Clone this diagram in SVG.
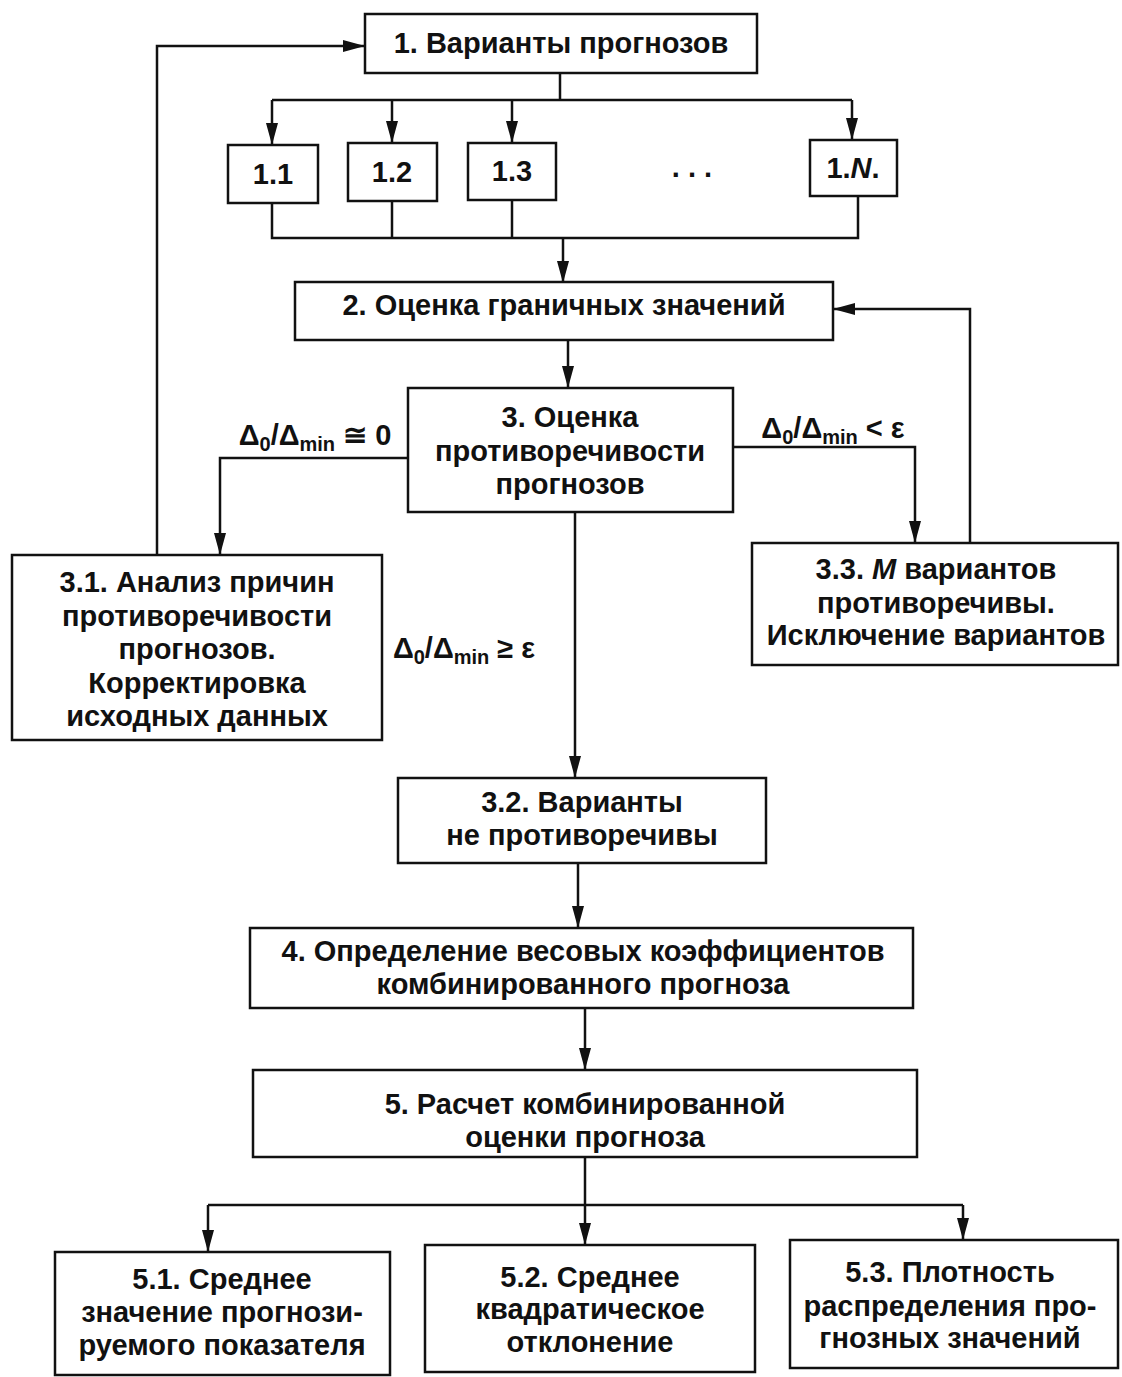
<svg xmlns="http://www.w3.org/2000/svg" width="1122" height="1377" viewBox="0 0 1122 1377">
<style>
.b{fill:#fff;stroke:#111;stroke-width:2.5}
.t{font-family:"Liberation Sans",Arial,sans-serif;font-weight:bold;font-size:29px;fill:#111;text-anchor:middle}
.c{fill:none;stroke:#111;stroke-width:2.5}
.s{font-size:20px}
</style>
<defs>
<marker id="a" viewBox="0 0 22 12" refX="22" refY="6" markerWidth="22" markerHeight="12" markerUnits="userSpaceOnUse" orient="auto">
<path d="M0,0 L22,6 L0,12 Z" fill="#111"/>
</marker>
</defs>
<rect width="1122" height="1377" fill="#fff"/>
<g id="connectors">
<path class="c" d="M157,555 V46 H365" marker-end="url(#a)"/>
<path class="c" d="M560,73 V100"/>
<path class="c" d="M272,100 H852"/>
<path class="c" d="M272,100 V145" marker-end="url(#a)"/>
<path class="c" d="M392,100 V143" marker-end="url(#a)"/>
<path class="c" d="M512,100 V143" marker-end="url(#a)"/>
<path class="c" d="M852,100 V140" marker-end="url(#a)"/>
<path class="c" d="M272,203 V238 H858 V196"/>
<path class="c" d="M392,201 V238"/>
<path class="c" d="M512,200 V238"/>
<path class="c" d="M563,238 V283" marker-end="url(#a)"/>
<path class="c" d="M568,340 V388" marker-end="url(#a)"/>
<path class="c" d="M408,458 H220 V555" marker-end="url(#a)"/>
<path class="c" d="M733,447 H915 V543" marker-end="url(#a)"/>
<path class="c" d="M970,543 V309 H833" marker-end="url(#a)"/>
<path class="c" d="M575,512 V778" marker-end="url(#a)"/>
<path class="c" d="M578,863 V928" marker-end="url(#a)"/>
<path class="c" d="M585,1008 V1070" marker-end="url(#a)"/>
<path class="c" d="M585,1157 V1205"/>
<path class="c" d="M208,1205 H963"/>
<path class="c" d="M208,1205 V1252" marker-end="url(#a)"/>
<path class="c" d="M585,1205 V1245" marker-end="url(#a)"/>
<path class="c" d="M963,1205 V1240" marker-end="url(#a)"/>
<text class="t" x="315" y="445">Δ<tspan class="s" dy="6">0</tspan><tspan dy="-6">/Δ</tspan><tspan class="s" dy="6">min</tspan><tspan dy="-6"> ≅ 0</tspan></text>
<text class="t" x="833" y="438">Δ<tspan class="s" dy="6">0</tspan><tspan dy="-6">/Δ</tspan><tspan class="s" dy="6">min</tspan><tspan dy="-6"> &lt; ε</tspan></text>
<text class="t" x="464" y="658">Δ<tspan class="s" dy="6">0</tspan><tspan dy="-6">/Δ</tspan><tspan class="s" dy="6">min</tspan><tspan dy="-6"> ≥ ε</tspan></text>
<text class="t" x="692" y="177">. . .</text>
</g>
<g id="n1"><rect class="b" x="365" y="14" width="392" height="59"/><text class="t" x="561" y="53">1. Варианты прогнозов</text></g>
<g id="n1_1"><rect class="b" x="228" y="145" width="90" height="58"/><text class="t" x="273" y="184">1.1</text></g>
<g id="n1_2"><rect class="b" x="348" y="143" width="89" height="58"/><text class="t" x="392" y="182">1.2</text></g>
<g id="n1_3"><rect class="b" x="468" y="143" width="88" height="57"/><text class="t" x="512" y="181">1.3</text></g>
<g id="n1_N"><rect class="b" x="810" y="140" width="87" height="56"/><text class="t" x="853" y="178">1.<tspan font-style="italic">N</tspan>.</text></g>
<g id="n2"><rect class="b" x="295" y="282" width="538" height="58"/><text class="t" x="564" y="315">2. Оценка граничных значений</text></g>
<g id="n3"><rect class="b" x="408" y="388" width="325" height="124"/>
<text class="t" x="570" y="427">3. Оценка</text><text class="t" x="570" y="461">противоречивости</text><text class="t" x="570" y="494">прогнозов</text></g>
<g id="n3_1"><rect class="b" x="12" y="555" width="370" height="185"/>
<text class="t" x="197" y="592">3.1. Анализ причин</text><text class="t" x="197" y="626">противоречивости</text><text class="t" x="197" y="659">прогнозов.</text><text class="t" x="197" y="693">Корректировка</text><text class="t" x="197" y="726">исходных данных</text></g>
<g id="n3_3"><rect class="b" x="752" y="543" width="366" height="122"/>
<text class="t" x="936" y="579">3.3. <tspan font-style="italic">M</tspan> вариантов</text><text class="t" x="936" y="613">противоречивы.</text><text class="t" x="936" y="645">Исключение вариантов</text></g>
<g id="n3_2"><rect class="b" x="398" y="778" width="368" height="85"/>
<text class="t" x="582" y="812">3.2. Варианты</text><text class="t" x="582" y="845">не противоречивы</text></g>
<g id="n4"><rect class="b" x="250" y="928" width="663" height="80"/>
<text class="t" x="583" y="961">4. Определение весовых коэффициентов</text><text class="t" x="583" y="994">комбинированного прогноза</text></g>
<g id="n5"><rect class="b" x="253" y="1070" width="664" height="87"/>
<text class="t" x="585" y="1114">5. Расчет комбинированной</text><text class="t" x="585" y="1147">оценки прогноза</text></g>
<g id="n5_1"><rect class="b" x="55" y="1252" width="335" height="123"/>
<text class="t" x="222" y="1289">5.1. Среднее</text><text class="t" x="222" y="1322">значение прогнози-</text><text class="t" x="222" y="1355">руемого показателя</text></g>
<g id="n5_2"><rect class="b" x="425" y="1245" width="330" height="127"/>
<text class="t" x="590" y="1287">5.2. Среднее</text><text class="t" x="590" y="1319">квадратическое</text><text class="t" x="590" y="1352">отклонение</text></g>
<g id="n5_3"><rect class="b" x="790" y="1240" width="328" height="128"/>
<text class="t" x="950" y="1282">5.3. Плотность</text><text class="t" x="950" y="1316">распределения про-</text><text class="t" x="950" y="1348">гнозных значений</text></g>
</svg>
